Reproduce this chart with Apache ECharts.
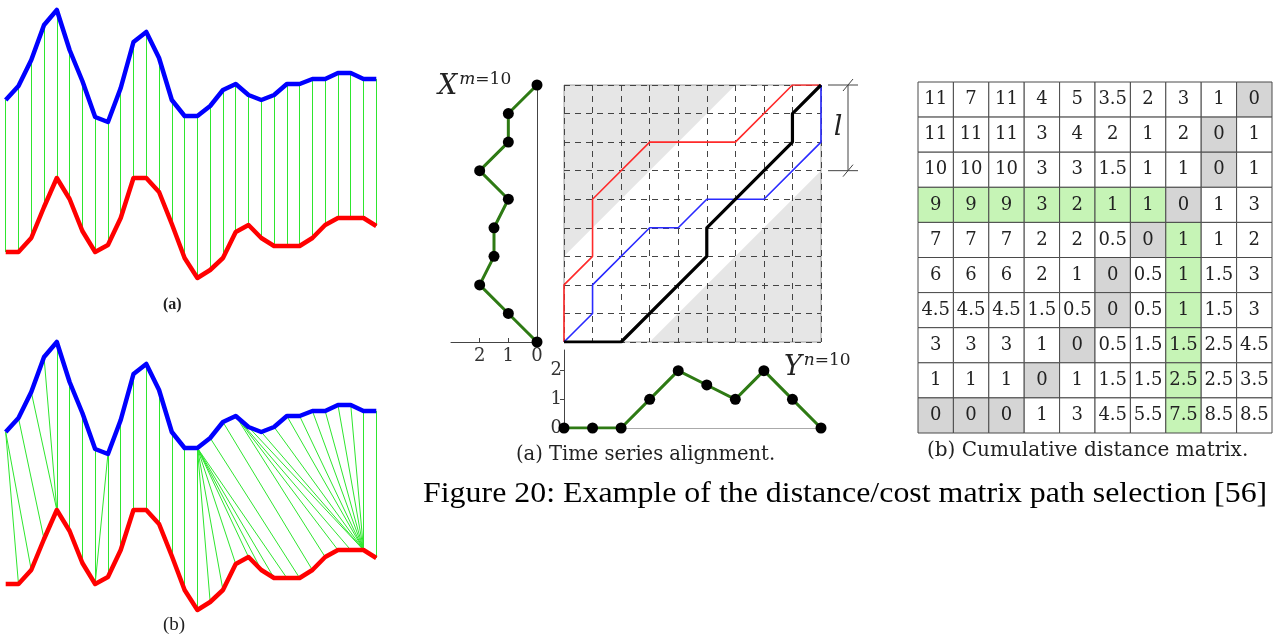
<!DOCTYPE html>
<html>
<head>
<meta charset="utf-8">
<script src="https://cdn.jsdelivr.net/npm/echarts@6/dist/echarts.min.js"></script>
<style>
  html, body { margin: 0; padding: 0; background: #fff; }
  #chart { width: 1278px; height: 641px; }
</style>
</head>
<body>
<div id="chart"></div>
<script>
// ---- left: two sequences, euclidean (a) vs DTW (b) matching ----
const blueCurve = [180, 194, 220, 255, 270, 230, 199, 163, 158, 192, 238, 248, 222, 180, 164,
                   164, 174, 190, 196, 185, 180, 185, 196, 196, 201, 201, 207, 207, 201, 201];
const redCurve  = [28, 28, 42, 73, 102, 81, 49, 28, 35, 62, 102, 102, 88, 56, 22,
                   2, 10, 22, 48, 55, 42, 34, 34, 34, 42, 55, 62, 62, 62, 54];
// [blue index, red index]
const dtwPairs = [
  [0, 1], [0, 2], [1, 3], [2, 4], [3, 4], [4, 4], [5, 5], [6, 6], [7, 7], [8, 7], [8, 8],
  [9, 9], [10, 10], [11, 11], [12, 12], [13, 13], [14, 14],
  [15, 15], [15, 16], [15, 17], [15, 18], [15, 19], [15, 20], [15, 21], [15, 22],
  [16, 23], [17, 24], [18, 25], [18, 26], [18, 27],
  [19, 28], [20, 28], [21, 28], [22, 28], [23, 28], [24, 28], [25, 28], [26, 28], [27, 28], [28, 28],
  [29, 29]
];

// ---- middle: time series alignment ----
const seqX = [0, 1, 2, 1.5, 1.5, 1, 2, 1, 1, 0];   // bottom -> top
const seqY = [0, 0, 0, 1, 2, 1.5, 1, 2, 1, 0];     // left -> right
const seqTicks = [0, 1, 2];
const pathBlack = [[0, 0], [2, 0], [5, 3], [5, 4], [8, 7], [8, 8], [9, 9]];
const pathRed   = [[0, 0], [0, 2], [1, 3], [1, 5], [3, 7], [6, 7], [8, 9], [9, 9]];
const pathBlue  = [[0, 0], [1, 1], [1, 2], [3, 4], [4, 4], [5, 5], [7, 5], [9, 7], [9, 9]];
const windowSize = 3;   // l

// ---- right: cumulative distance matrix (top row first) ----
const costRows = [
  ['11', '7', '11', '4', '5', '3.5', '2', '3', '1', '0'],
  ['11', '11', '11', '3', '4', '2', '1', '2', '0', '1'],
  ['10', '10', '10', '3', '3', '1.5', '1', '1', '0', '1'],
  ['9', '9', '9', '3', '2', '1', '1', '0', '1', '3'],
  ['7', '7', '7', '2', '2', '0.5', '0', '1', '1', '2'],
  ['6', '6', '6', '2', '1', '0', '0.5', '1', '1.5', '3'],
  ['4.5', '4.5', '4.5', '1.5', '0.5', '0', '0.5', '1', '1.5', '3'],
  ['3', '3', '3', '1', '0', '0.5', '1.5', '1.5', '2.5', '4.5'],
  ['1', '1', '1', '0', '1', '1.5', '1.5', '2.5', '2.5', '3.5'],
  ['0', '0', '0', '1', '3', '4.5', '5.5', '7.5', '8.5', '8.5']
];
// [col, row from bottom]
const warpCells = [[0, 0], [1, 0], [2, 0], [3, 1], [4, 2], [5, 3], [5, 4], [6, 5], [7, 6], [8, 7], [8, 8], [9, 9]];
const greenCells = [[0, 6], [1, 6], [2, 6], [3, 6], [4, 6], [5, 6], [6, 6],
                    [7, 5], [7, 4], [7, 3], [7, 2], [7, 1], [7, 0]];

const N = seqY.length;
const lastIdx = N - 1;
const serif = 'DejaVu Serif';

const chart = echarts.init(document.getElementById('chart'), null, { renderer: 'canvas' });

// cells for the table
const cellKey = (c, r) => c + ',' + r;
const warpSet = new Set(warpCells.map(c => cellKey(c[0], c[1])));
const greenSet = new Set(greenCells.map(c => cellKey(c[0], c[1])));
const tableCells = [];
costRows.forEach((row, ri) => {
  const r = costRows.length - 1 - ri;
  row.forEach((txt, c) => {
    let fill = '#ffffff';
    if (warpSet.has(cellKey(c, r))) fill = '#d5d5d5';
    else if (greenSet.has(cellKey(c, r))) fill = '#c6f4b6';
    tableCells.push({ c, r, txt, fill });
  });
});

// gray areas outside the warping window
const bandPolys = [
  [[0, windowSize], [0, lastIdx], [lastIdx - windowSize, lastIdx]],
  [[windowSize, 0], [lastIdx, 0], [lastIdx, lastIdx - windowSize]]
];

const hiddenAxis = (extra) => Object.assign({
  type: 'value',
  axisLine: { show: false }, axisTick: { show: false },
  axisLabel: { show: false }, splitLine: { show: false }
}, extra);

// label with a superscript, e.g. X^{m=10}
const seqLabel = (letter, sub) => ({
  text: '{x|' + letter + '}{m|' + sub + '}{e|=10}',
  rich: {
    x: { font: 'italic 27px "DejaVu Serif"', fill: '#222', verticalAlign: 'bottom' },
    m: { font: 'italic 17px "DejaVu Serif"', fill: '#222', verticalAlign: 'top', padding: [0, 0, 12, 2] },
    e: { font: '17px "DejaVu Serif"', fill: '#222', verticalAlign: 'top', padding: [0, 0, 12, 0] }
  }
});

const option = {
  backgroundColor: '#fff',
  animation: false,
  grid: [
    { left: 5.7, top: 0, width: 370.6, height: 280 },      // (a)
    { left: 5.7, top: 332, width: 370.6, height: 280 },    // (b)
    { left: 564, top: 85, width: 257, height: 257, show: true, borderColor: '#a0a0a0', borderWidth: 1, backgroundColor: 'transparent' },
    { left: 451, top: 85, width: 86, height: 257 },        // X sequence
    { left: 564, top: 350, width: 257, height: 78 },       // Y sequence
    { left: 918, top: 82, width: 354, height: 351 }        // table
  ],
  xAxis: [
    hiddenAxis({ gridIndex: 0, min: 0, max: blueCurve.length - 1 }),
    hiddenAxis({ gridIndex: 1, min: 0, max: blueCurve.length - 1 }),
    hiddenAxis({
      gridIndex: 2, min: 0, max: lastIdx, interval: 1,
      splitLine: { show: true, lineStyle: { color: '#444', type: [6, 5], width: 1 } }
    }),
    {
      type: 'value', gridIndex: 3, min: 0, max: 3, inverse: true, interval: 1,
      axisLine: { show: true, onZero: false, lineStyle: { color: '#444', width: 1 } },
      axisTick: { show: true, inside: true, length: 4, customValues: seqTicks, lineStyle: { color: '#444' } },
      axisLabel: { customValues: seqTicks, color: '#333', fontFamily: serif, fontSize: 18, margin: 5 },
      splitLine: { show: false }
    },
    {
      type: 'value', gridIndex: 4, min: 0, max: lastIdx,
      axisLine: { show: true, onZero: false, lineStyle: { color: '#aaa', width: 1 } },
      axisTick: { show: false }, axisLabel: { show: false }, splitLine: { show: false }
    },
    hiddenAxis({ gridIndex: 5, min: -0.5, max: 9.5 })
  ],
  yAxis: [
    hiddenAxis({ gridIndex: 0, min: 0, max: 280 }),
    hiddenAxis({ gridIndex: 1, min: 0, max: 280 }),
    hiddenAxis({
      gridIndex: 2, min: 0, max: lastIdx, interval: 1,
      splitLine: { show: true, lineStyle: { color: '#444', type: [6, 5], width: 1 } }
    }),
    {
      type: 'value', gridIndex: 3, min: 0, max: lastIdx, position: 'right',
      axisLine: { show: true, onZero: false, lineStyle: { color: '#444', width: 1 } },
      axisTick: { show: false }, axisLabel: { show: false }, splitLine: { show: false }
    },
    {
      type: 'value', gridIndex: 4, min: 0, max: 2.72,
      axisLine: { show: true, onZero: false, lineStyle: { color: '#444', width: 1 } },
      axisTick: { show: true, length: 4, customValues: seqTicks, lineStyle: { color: '#444' } },
      axisLabel: { customValues: seqTicks, color: '#333', fontFamily: serif, fontSize: 18, margin: 2 },
      splitLine: { show: false }
    },
    hiddenAxis({ gridIndex: 5, min: -0.5, max: 9.5 })
  ],
  series: [
    // (a) euclidean matching
    {
      type: 'lines', coordinateSystem: 'cartesian2d', xAxisIndex: 0, yAxisIndex: 0, z: 1,
      lineStyle: { color: '#2ee62e', width: 1, opacity: 1 },
      data: blueCurve.map((b, i) => ({ coords: [[i, b], [i, redCurve[i]]] }))
    },
    {
      type: 'line', xAxisIndex: 0, yAxisIndex: 0, z: 3, symbol: 'none',
      lineStyle: { color: '#0000ff', width: 4.5, join: 'round' },
      data: blueCurve.map((v, i) => [i, v])
    },
    {
      type: 'line', xAxisIndex: 0, yAxisIndex: 0, z: 3, symbol: 'none',
      lineStyle: { color: '#ff0000', width: 4.5, join: 'round' },
      data: redCurve.map((v, i) => [i, v])
    },
    // (b) DTW matching
    {
      type: 'lines', coordinateSystem: 'cartesian2d', xAxisIndex: 1, yAxisIndex: 1, z: 1,
      lineStyle: { color: '#2ee62e', width: 1, opacity: 1 },
      data: dtwPairs.map(p => ({ coords: [[p[0], blueCurve[p[0]]], [p[1], redCurve[p[1]]]] }))
    },
    {
      type: 'line', xAxisIndex: 1, yAxisIndex: 1, z: 3, symbol: 'none',
      lineStyle: { color: '#0000ff', width: 4.5, join: 'round' },
      data: blueCurve.map((v, i) => [i, v])
    },
    {
      type: 'line', xAxisIndex: 1, yAxisIndex: 1, z: 3, symbol: 'none',
      lineStyle: { color: '#ff0000', width: 4.5, join: 'round' },
      data: redCurve.map((v, i) => [i, v])
    },
    // warping window (gray outside the band)
    {
      type: 'custom', xAxisIndex: 2, yAxisIndex: 2, z: -5, silent: true,
      data: bandPolys.map((_, i) => [i]),
      renderItem: (params, api) => ({
        type: 'polygon',
        shape: { points: bandPolys[params.dataIndex].map(p => api.coord(p)) },
        style: { fill: '#e6e6e6' }
      })
    },
    {
      type: 'line', xAxisIndex: 2, yAxisIndex: 2, z: 4, symbol: 'none',
      lineStyle: { color: '#ff2a2a', width: 1.6 }, data: pathRed
    },
    {
      type: 'line', xAxisIndex: 2, yAxisIndex: 2, z: 4, symbol: 'none',
      lineStyle: { color: '#2a2aff', width: 1.6 }, data: pathBlue
    },
    {
      type: 'line', xAxisIndex: 2, yAxisIndex: 2, z: 5, symbol: 'none',
      lineStyle: { color: '#000', width: 3.2 }, data: pathBlack
    },
    // X sequence (vertical)
    {
      type: 'line', xAxisIndex: 3, yAxisIndex: 3, z: 4,
      symbol: 'circle', symbolSize: 11, itemStyle: { color: '#000' },
      lineStyle: { color: '#2e7a14', width: 3 },
      data: seqX.map((v, j) => [v, j])
    },
    // Y sequence (horizontal)
    {
      type: 'line', xAxisIndex: 4, yAxisIndex: 4, z: 4,
      symbol: 'circle', symbolSize: 11, itemStyle: { color: '#000' },
      lineStyle: { color: '#2e7a14', width: 3 },
      data: seqY.map((v, i) => [i, v])
    },
    // cumulative distance matrix
    {
      type: 'custom', xAxisIndex: 5, yAxisIndex: 5, z: 2, silent: true,
      data: tableCells.map(c => [c.c, c.r]),
      renderItem: (params, api) => {
        const cell = tableCells[params.dataIndex];
        const p = api.coord([cell.c, cell.r]);
        const s = api.size([1, 1]);
        return {
          type: 'rect',
          shape: { x: p[0] - s[0] / 2, y: p[1] - s[1] / 2, width: s[0], height: s[1] },
          style: { fill: cell.fill, stroke: '#4a4a4a', lineWidth: 1 },
          textContent: {
            style: { text: cell.txt, fill: '#222', font: '18px "DejaVu Serif"' }
          },
          textConfig: { position: 'inside' }
        };
      }
    }
  ],
  graphic: [
    { type: 'text', left: 163, top: 297, style: { text: '(a)', font: 'bold 16px "Liberation Serif"', fill: '#222' } },
    { type: 'text', left: 163, top: 616, style: { text: '(b)', font: '19px "Liberation Serif"', fill: '#222' } },
    { type: 'text', left: 438, top: 71, style: seqLabel('X', 'm') },
    { type: 'text', left: 784, top: 352, style: seqLabel('Y', 'n') },
    { type: 'text', left: 516, top: 445, style: { text: '(a) Time series alignment.', font: '19.5px "DejaVu Serif"', fill: '#222' } },
    { type: 'text', left: 927, top: 441, style: { text: '(b) Cumulative distance matrix.', font: '20px "DejaVu Serif"', fill: '#222' } },
    {
      type: 'text', x: 423, y: 480, scaleX: 1.1,
      style: { text: 'Figure 20: Example of the distance/cost matrix path selection [56]', font: '29px "Liberation Serif"', fill: '#000', verticalAlign: 'top' }
    }
  ]
};

chart.setOption(option);

// bracket marking the window size l, placed from the matrix scale
const pTop = chart.convertToPixel({ gridIndex: 2 }, [lastIdx, lastIdx]);
const pBot = chart.convertToPixel({ gridIndex: 2 }, [lastIdx, lastIdx - windowSize]);
const bx = pTop[0] + 27;
const ink = { stroke: '#444', lineWidth: 1 };
chart.setOption({
  graphic: [
    { id: 'brTop', type: 'line', shape: { x1: pTop[0] + 7, y1: pTop[1], x2: pTop[0] + 37, y2: pTop[1] }, style: ink },
    { id: 'brBot', type: 'line', shape: { x1: pBot[0] + 7, y1: pBot[1], x2: pBot[0] + 37, y2: pBot[1] }, style: ink },
    { id: 'brV', type: 'line', shape: { x1: bx, y1: pTop[1], x2: bx, y2: pBot[1] }, style: ink },
    { id: 'brT1', type: 'line', shape: { x1: bx - 5, y1: pTop[1] + 6, x2: bx + 5, y2: pTop[1] - 6 }, style: ink },
    { id: 'brT2', type: 'line', shape: { x1: bx - 5, y1: pBot[1] + 6, x2: bx + 5, y2: pBot[1] - 6 }, style: ink },
    {
      id: 'brL', type: 'text', x: bx - 10, y: (pTop[1] + pBot[1]) / 2,
      style: { text: 'l', font: 'italic 27px "DejaVu Serif"', fill: '#222', align: 'center', verticalAlign: 'middle' }
    }
  ]
});
</script>
</body>
</html>
